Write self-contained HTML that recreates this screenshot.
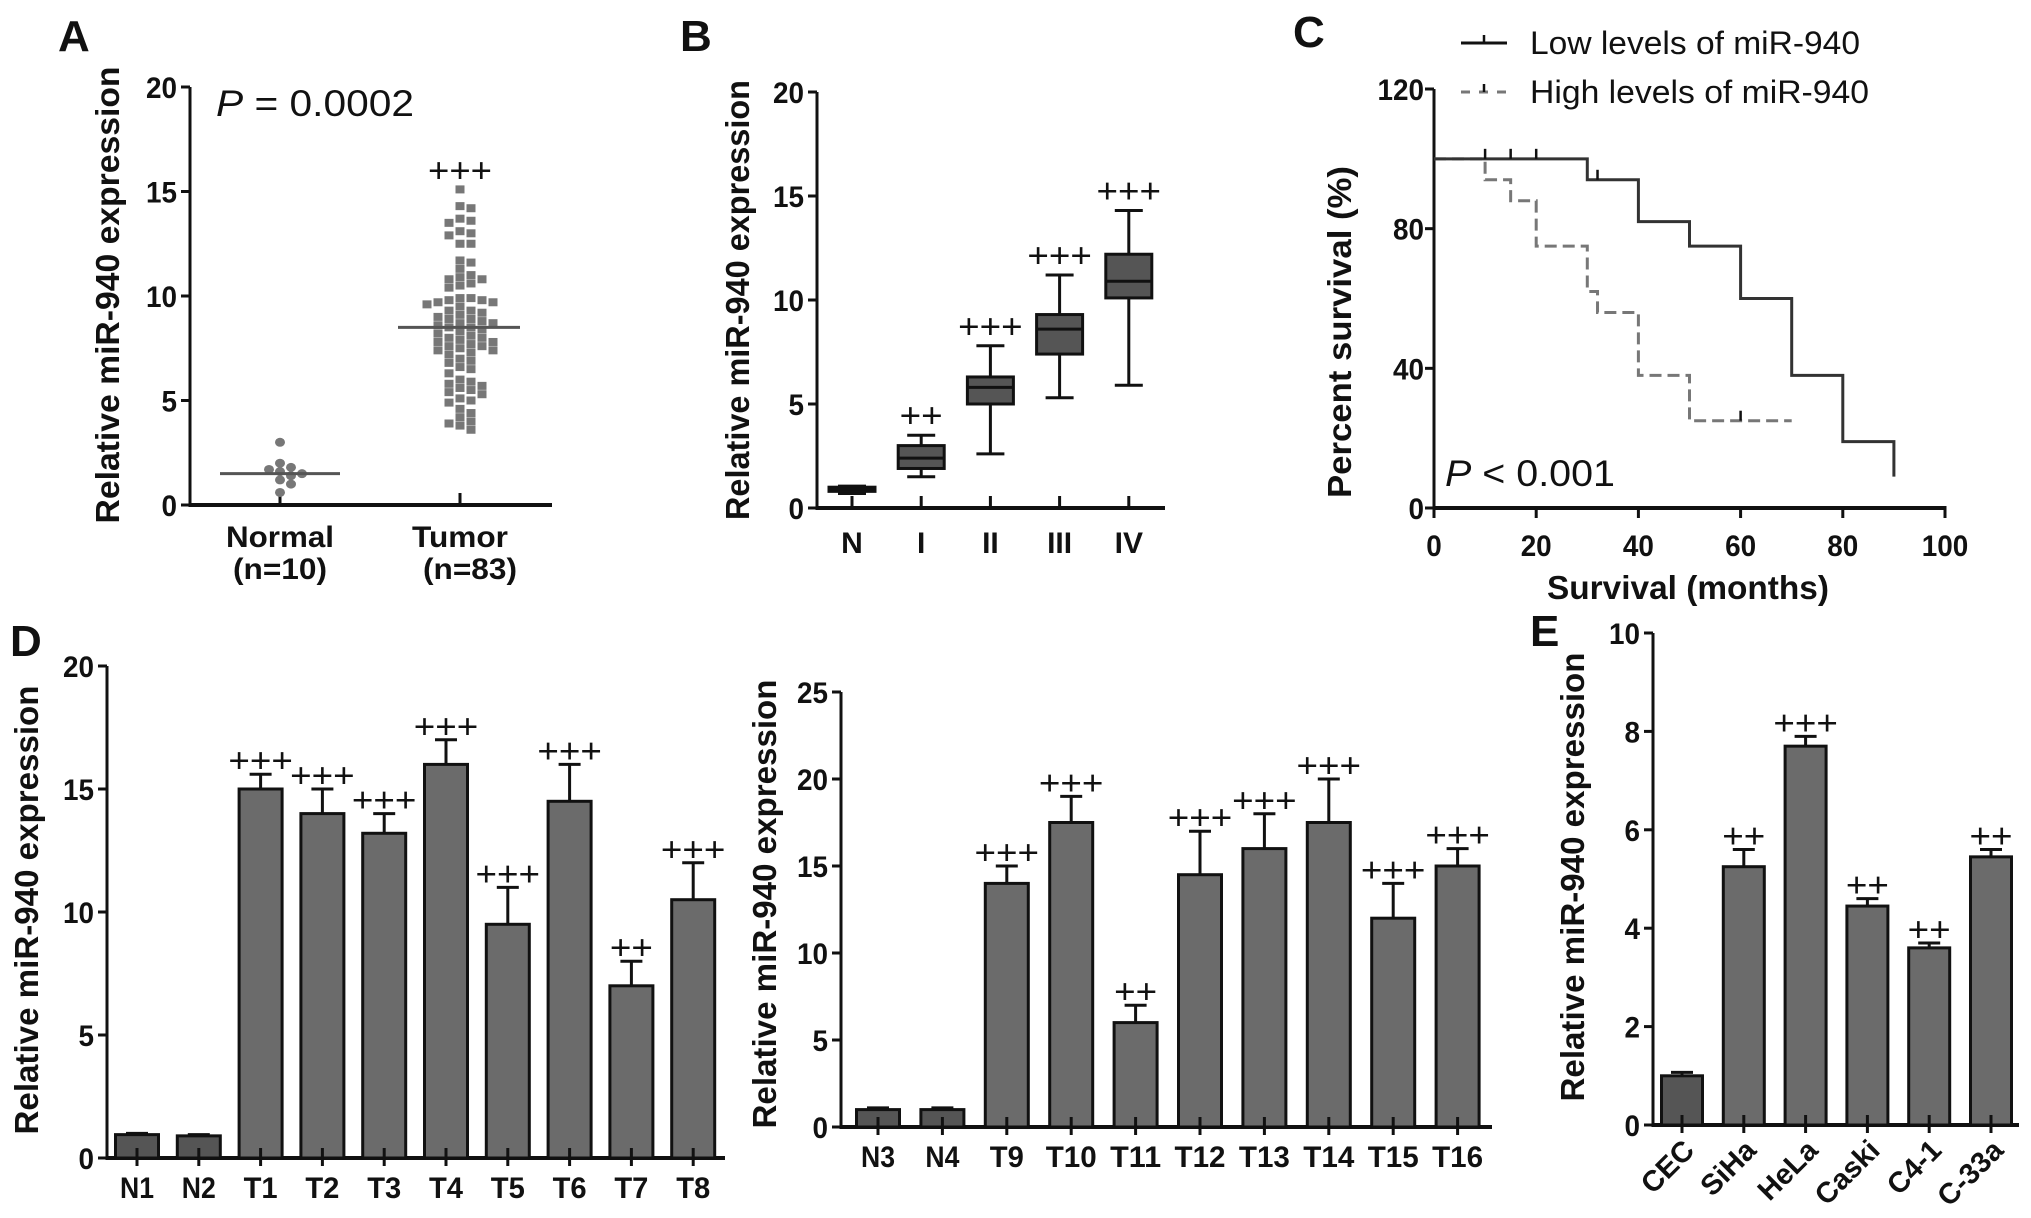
<!DOCTYPE html>
<html><head><meta charset="utf-8"><title>miR-940 figure</title>
<style>
html,body{margin:0;padding:0;background:#fff;}
svg{display:block;}
text{font-family:"Liberation Sans",Arial,sans-serif;fill:#111;}
</style></head>
<body>
<svg id="fig" xmlns="http://www.w3.org/2000/svg" width="2031" height="1218" viewBox="0 0 2031 1218"></svg>
<script>
// ---------- DATA ----------
const normalVals = [3.0, 2.0, 1.8, 1.7, 1.6, 1.5, 1.4, 1.2, 1.0, 0.6];
const tumorVals = [15.1,14.3,14.2,13.7,13.6,13.5,13.1,13.0,12.9,12.5,12.5,11.7,11.6,11.3,11.0,10.9,10.8,10.8,10.6,10.5,10.4,9.9,9.9,9.8,9.8,9.7,9.7,9.6,9.5,9.3,9.3,9.2,9.1,9.0,8.9,8.9,8.8,8.7,8.7,8.6,8.5,8.5,8.4,8.3,8.2,8.1,8.0,8.0,7.9,7.8,7.8,7.7,7.6,7.6,7.5,7.4,7.4,7.3,7.2,7.0,6.9,6.8,6.6,6.5,6.3,6.0,5.9,5.8,5.7,5.6,5.5,5.4,5.3,5.1,5.0,4.9,4.6,4.4,4.2,4.0,3.9,3.8,3.6];
const normalMean = 1.5;
const tumorMean = 8.5;
const yTicksA = [0,5,10,15,20];

const stageCats = ["N","I","II","III","IV"];
const stageMin = [0.7,1.5,2.6,5.3,5.9];
const stageQ1  = [0.8,1.9,5.0,7.4,10.1];
const stageMed = [0.9,2.4,5.8,8.6,10.9];
const stageQ3  = [1.0,3.0,6.3,9.3,12.2];
const stageMax = [1.05,3.5,7.8,11.2,14.3];
const stageSig = ["","++","+++","+++","+++"];

const lowT = [0,30,40,50,60,70,80,90];
const lowS = [100,94,82,75,60,38,19,9];
const lowCensT = [10,15,20,32];
const lowCensS = [100,100,100,94];
const highT = [0,10,15,20,30,32,40,50,70];
const highS = [100,94,88,75,62,56,38,25,25];
const highCensT = [60];
const highCensS = [25];
const xTicksC = [0,20,40,60,80,100];
const yTicksC = [0,40,80,120];

const d1Cats = ["N1","N2","T1","T2","T3","T4","T5","T6","T7","T8"];
const d1Vals = [0.95,0.9,15,14,13.2,16,9.5,14.5,7,10.5];
const d1Err  = [0.05,0.05,0.6,1.0,0.8,1.0,1.5,1.5,1.0,1.5];
const d1Sig  = ["","","+++","+++","+++","+++","+++","+++","++","+++"];
const d1Ticks = [0,5,10,15,20];

const d2Cats = ["N3","N4","T9","T10","T11","T12","T13","T14","T15","T16"];
const d2Vals = [1,1,14,17.5,6,14.5,16,17.5,12,15];
const d2Err  = [0.1,0.1,1,1.5,1,2.5,2,2.5,2,1];
const d2Sig  = ["","","+++","+++","++","+++","+++","+++","+++","+++"];
const d2Ticks = [0,5,10,15,20,25];

const eCats = ["CEC","SiHa","HeLa","Caski","C4-1","C-33a"];
const eVals = [1.0,5.25,7.7,4.45,3.6,5.45];
const eErr  = [0.07,0.35,0.2,0.15,0.1,0.15];
const eSig  = ["","++","+++","++","++","++"];
const eTicks = [0,2,4,6,8,10];

// ---------- HELPERS ----------
const NS = "http://www.w3.org/2000/svg";
const svg = document.getElementById('fig');
function mk(tag, attrs, parent){
  const e = document.createElementNS(NS, tag);
  for (const k in attrs) e.setAttribute(k, attrs[k]);
  (parent||svg).appendChild(e);
  return e;
}
function line(x1,y1,x2,y2,w,parent,dash){
  const a = {x1:x1,y1:y1,x2:x2,y2:y2,stroke:'#111','stroke-width':w||3};
  if (dash) a['stroke-dasharray']=dash;
  return mk('line',a,parent);
}
function txt(x,y,s,size,anchor,weight,parent,len,extra){
  const a = {x:x,y:y,'font-size':size,'text-anchor':anchor||'start','font-weight':weight||'normal'};
  if (len){a.textLength=len;a.lengthAdjust='spacingAndGlyphs';}
  if (extra) for (const k in extra) a[k]=extra[k];
  const e = mk('text',a,parent);
  e.textContent = s;
  return e;
}
function group(name){
  const g = mk('g',{});
  
  
  return g;
}
function yAxis(g, x, y0, yTop, vmax, ticks, labelX){
  const ax = line(x, y0+1.5, x, yTop, 3, g);
  
  
  ticks.forEach(t=>{
    const y = y0 - t*(y0-yTop)/vmax;
    const tk = line(x-9, y, x, y, 3, g);
    
    
    const lb = txt(labelX, y+11, String(t), 30, 'end', 'bold', g, String(t).length*15.5);
    
    
  });
}
function yTitle(g, cx, cy, s, len){
  const t = txt(cx, cy, s, 33, 'middle', 'bold', g, len, {transform:'rotate(-90 '+cx+' '+cy+')', dy:'12'});
  
  
}
function panelLetter(x,y,s){
  const t = txt(x,y,s,44,'start','bold');
  
  
}

// ---------- PANEL A ----------
(function(){
  const g = group('panel-a-scatter');
  const X=190, Y0=505, YT=87, VM=20;
  const ys = v => Y0 - v*(Y0-YT)/VM;
  yAxis(g, X, Y0, YT, VM, yTicksA, 177);
  const xa = line(X-1.5, Y0, 552, Y0, 4, g);
  
  
  [280,460].forEach(cx=>{
    const tk = line(cx, Y0-12, cx, Y0, 3, g);
    
    
  });
  yTitle(g, 107, 295, 'Relative miR-940 expression', 457);
  function swarm(vals, cx, step, shape, name){
    const placed = [];
    vals.forEach(v=>{
      const y = ys(v);
      let off = 0;
      const cand = [0];
      for (let k=1;k<8;k++){cand.push(k*step); cand.push(-k*step);}
      for (const c of cand){
        if (!placed.some(p=>Math.abs(p.x-c)<step-0.5 && Math.abs(p.y-y)<7)){off=c;break;}
      }
      placed.push({x:off,y:y});
      let m;
      if (shape==='sq') m = mk('rect',{x:cx+off-4.5,y:y-4,width:9,height:8,fill:'#777'},g);
      else m = mk('ellipse',{cx:cx+off,cy:y,rx:5,ry:4.5,fill:'#777'},g);
      
      
    });
  }
  swarm(normalVals, 280, 11, 'ci', 'normal-point');
  swarm(tumorVals, 460, 11, 'sq', 'tumor-point');
  const m1 = mk('line',{x1:220,y1:ys(normalMean),x2:340,y2:ys(normalMean),stroke:'#555','stroke-width':3},g);
  
  
  const m2 = mk('line',{x1:398,y1:ys(tumorMean),x2:520,y2:ys(tumorMean),stroke:'#555','stroke-width':3},g);
  
  
  const p = txt(216,116,'',37,'start','normal',g,198);
  p.innerHTML = '<tspan font-style="italic">P</tspan> = 0.0002';
  
  
  const s = txt(460,182,'+++',34,'middle','normal',g,64);
  
  
  const l1 = txt(280,547,'Normal',30,'middle','bold',g,108);
  
  
  const l2 = txt(280,579,'(n=10)',30,'middle','bold',g,94);
  
  
  const l3 = txt(460,547,'Tumor',30,'middle','bold',g,96);
  
  
  const l4 = txt(470,579,'(n=83)',30,'middle','bold',g,94);
  
  
})();
panelLetter(58,51,'A');

// ---------- PANEL B ----------
(function(){
  const g = group('panel-b-boxplot');
  const X=817, Y0=508, YT=92, VM=20;
  const ys = v => Y0 - v*(Y0-YT)/VM;
  yAxis(g, X, Y0, YT, VM, yTicksA, 804);
  const xa = line(X-1.5, Y0, 1165, Y0, 4, g);
  
  
  yTitle(g, 737, 300, 'Relative miR-940 expression', 440);
  const cx0=852, dx=69.2, bw=46, cw=28;
  stageCats.forEach((c,i)=>{
    const cx = cx0 + i*dx;
    const tk = line(cx, Y0-12, cx, Y0, 3, g);
    
    
    const w1 = line(cx, ys(stageMax[i]), cx, ys(stageMin[i]), 3, g);
    
    
    const c1 = line(cx-cw/2, ys(stageMax[i]), cx+cw/2, ys(stageMax[i]), 3, g);
    
    
    const c2 = line(cx-cw/2, ys(stageMin[i]), cx+cw/2, ys(stageMin[i]), 3, g);
    
    
    const b = mk('rect',{x:cx-bw/2,y:ys(stageQ3[i]),width:bw,height:Math.max(ys(stageQ1[i])-ys(stageQ3[i]),3),fill:'#555',stroke:'#111','stroke-width':3},g);
    
    
    const md = line(cx-bw/2, ys(stageMed[i]), cx+bw/2, ys(stageMed[i]), 3, g);
    
    
    if (stageSig[i]){
      const s = txt(cx, ys(stageMax[i])-8, stageSig[i], 34, 'middle','normal',g, stageSig[i].length*21.5);
      
      
    }
    const lb = txt(cx, 553, c, 30, 'middle','bold',g);
    
    
  });
})();
panelLetter(680,51,'B');

// ---------- PANEL C ----------
(function(){
  const g = group('panel-c-survival');
  const X=1434, Y0=508, YT=89, VM=120, XR=1945;
  const ys = v => Y0 - v*(Y0-YT)/VM;
  const xs = t => X + t*(XR-X)/100;
  yAxis(g, X, Y0, YT, VM, yTicksC, 1424);
  const xa = line(X-1.5, Y0, XR+1.5, Y0, 4, g);
  
  
  xTicksC.forEach(t=>{
    const tk = line(xs(t), Y0, xs(t), Y0+10, 3, g);
    
    
    const lb = txt(xs(t), 556, String(t), 30, 'middle','bold',g, String(t).length*15.5);
    
    
  });
  yTitle(g, 1339, 332, 'Percent survival (%)', 332);
  const xt = txt(1688, 599, 'Survival (months)', 33, 'middle','bold',g, 282);
  
  
  function stepPath(T,S){
    let d = 'M'+xs(T[0])+' '+ys(S[0]);
    for (let i=1;i<T.length;i++){
      d += ' H'+xs(T[i])+' V'+ys(S[i]);
    }
    return d;
  }
  const hp = mk('path',{d:stepPath(highT,highS),fill:'none',stroke:'#777','stroke-width':3,'stroke-dasharray':'12 6'},g);
  
  
  const lp = mk('path',{d:stepPath(lowT,lowS),fill:'none',stroke:'#333','stroke-width':3},g);
  
  
  lowCensT.forEach((t,i)=>{
    const c = line(xs(t), ys(lowCensS[i])-10, xs(t), ys(lowCensS[i]), 2.5, g);
    
    
  });
  highCensT.forEach((t,i)=>{
    const c = line(xs(t), ys(highCensS[i])-10, xs(t), ys(highCensS[i]), 2.5, g);
    
    
  });
  const p = txt(1445,486,'',37,'start','normal',g,170);
  p.innerHTML = '<tspan font-style="italic">P</tspan> &lt; 0.001';
  
  
  // legend
  const lg = mk('g',{},g);
  
  
  const ll = line(1461,43,1507,43,3,lg);
  
  
  const lt = line(1484,35,1484,43,2.5,lg);
  
  
  const hl = mk('line',{x1:1461,y1:92,x2:1507,y2:92,stroke:'#777','stroke-width':3,'stroke-dasharray':'9 9'},lg);
  
  
  const ht = line(1484,84,1484,92,2.5,lg);
  
  
  const t1 = txt(1530,54,'Low levels of miR-940',32,'start','normal',lg,330);
  
  
  const t2 = txt(1530,103,'High levels of miR-940',32,'start','normal',lg,339);
  
  
})();
panelLetter(1293,47,'C');

// ---------- BAR CHART HELPER ----------
function barChart(name, cats, vals, errs, sigs, ticks, cfg){
  const g = group(name);
  const ys = v => cfg.y0 - v*(cfg.y0-cfg.yt)/cfg.vmax;
  yAxis(g, cfg.x, cfg.y0, cfg.yt, cfg.vmax, ticks, cfg.x-13);
  const xa = line(cfg.x-1.5, cfg.y0, cfg.xr, cfg.y0, 4, g);
  
  
  yTitle(g, cfg.tx, cfg.ty, 'Relative miR-940 expression', cfg.tl);
  cats.forEach((c,i)=>{
    const cx = cfg.c0 + i*cfg.dx;
    const top = ys(vals[i]);
    const et = ys(vals[i]+errs[i]);
    const eb = line(cx, et, cx, top, 3, g);
    
    
    const ec = line(cx-11, et, cx+11, et, 3, g);
    
    
    const b = mk('rect',{x:cx-cfg.bw/2,y:top,width:cfg.bw,height:cfg.y0-top,fill:(i<cfg.nDark?'#555':'#6b6b6b'),stroke:'#111','stroke-width':3},g);
    
    
    const tk = line(cx, cfg.y0-10, cx, cfg.y0+8, 3, g);
    
    
    if (sigs[i]){
      const s = txt(cx, et-2, sigs[i], 34, 'middle','normal',g, sigs[i].length*21.5);
      
      
    }
    let lb;
    if (cfg.rot){
      const lx = cx+14, ly = cfg.ly;
      lb = txt(lx, ly, c, 29, 'end','bold',g,null,{transform:'rotate(-45 '+lx+' '+ly+')'});
    } else {
      lb = txt(cx, cfg.ly, c, 30, 'middle','bold',g, c.length*17);
    }
    
    
  });
}
barChart('panel-d-left-bars', d1Cats, d1Vals, d1Err, d1Sig, d1Ticks,
  {x:107,y0:1158,yt:666,vmax:20,xr:725,c0:137,dx:61.8,bw:43,tx:26,ty:910,tl:449,ly:1198,nDark:2});
barChart('panel-d-right-bars', d2Cats, d2Vals, d2Err, d2Sig, d2Ticks,
  {x:841,y0:1127,yt:692,vmax:25,xr:1492,c0:878,dx:64.4,bw:43,tx:764,ty:904,tl:449,ly:1167,nDark:2});
barChart('panel-e-bars', eCats, eVals, eErr, eSig, eTicks,
  {x:1653,y0:1125,yt:633,vmax:10,xr:2019,c0:1682,dx:61.8,bw:41,tx:1572,ty:877,tl:449,ly:1152,nDark:1,rot:true});
panelLetter(10,656,'D');
panelLetter(1530,646,'E');
</script>
</body></html>
